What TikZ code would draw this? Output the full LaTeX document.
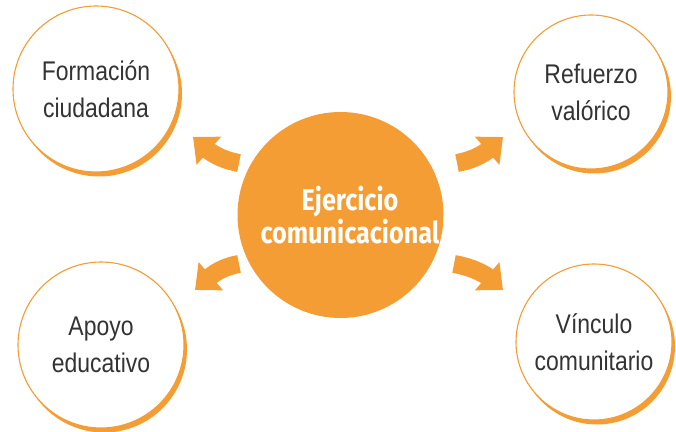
\documentclass[tikz,border=0pt]{standalone}
\usepackage{fontspec}
\usetikzlibrary{arrows.meta,shadows}
\newfontfamily\outerfont{Liberation Sans}[FakeStretch=0.85]
\newfontfamily\hubfont{Fira Sans}[FakeStretch=0.84]
\definecolor{ora}{RGB}{243,157,52}
\definecolor{txt}{RGB}{51,51,51}
\begin{document}
\begin{tikzpicture}[x=1pt,y=1pt,
  outer/.style={circle, draw=ora, line width=1.1pt, fill=white, inner sep=0pt,
    align=center, text=txt, font={\outerfont\fontsize{27}{37}\selectfont},
    drop shadow={fill=ora, opacity=1, shadow xshift=3pt, shadow yshift=-4.5pt}},
  hub/.style={circle, fill=ora, inner sep=0pt, minimum size=206pt},
  hubtext/.style={align=center, text=white, font={\hubfont\bfseries\fontsize{30}{33}\selectfont}},
  flow/.style={draw=ora, line width=18pt, -{Triangle[length=21pt,width=36pt]}}
]
\useasboundingbox (0,0) rectangle (676,431);
\node[hub] (c) at (340.5,216) {};
\node[hubtext] (ct) at (350,216) {Ejercicio\\comunicacional};
\node[outer, minimum size=166pt] (f) at (96,342) {Formación\\ciudadana};
\node[outer, minimum size=154pt] (r) at (591,339) {Refuerzo\\valórico};
\node[outer, minimum size=166pt] (a) at (101,86) {Apoyo\\educativo};
\node[outer, minimum size=156pt] (v) at (594,89) {Vínculo\\comunitario};
\coordinate (t1) at (239,268); \coordinate (h1) at (193,294);
\coordinate (t2) at (239,167); \coordinate (h2) at (195,141);
\coordinate (t3) at (457,268); \coordinate (h3) at (503,294);
\coordinate (t4) at (454,167); \coordinate (h4) at (503,141);
\draw[flow] (t1) to[out=170,in=-41] (h1);
\draw[flow] (t2) to[out=190,in=41] (h2);
\draw[flow] (t3) to[out=10,in=221] (h3);
\draw[flow] (t4) to[out=-10,in=139] (h4);
\end{tikzpicture}
\end{document}
